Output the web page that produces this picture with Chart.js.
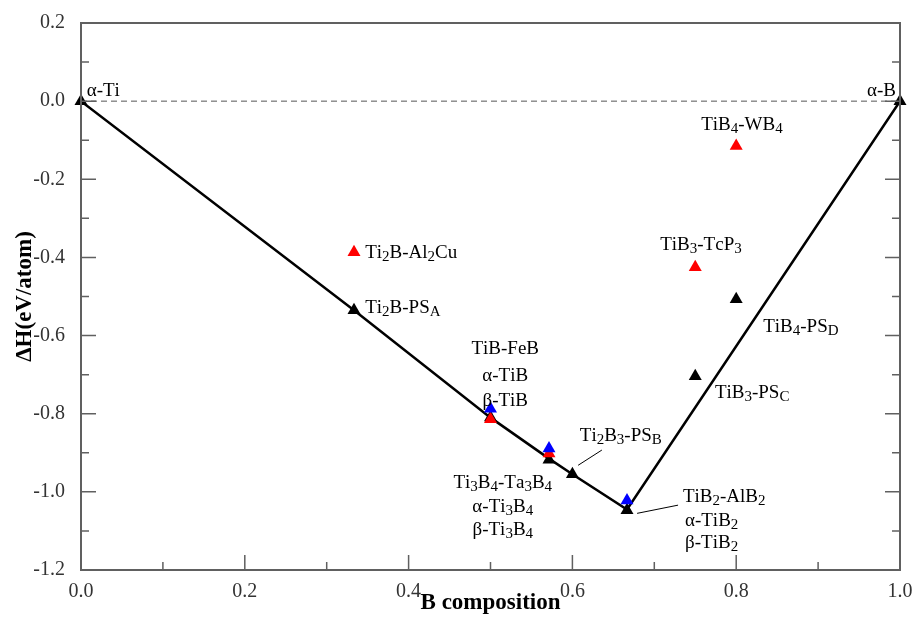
<!DOCTYPE html>
<html>
<head>
<meta charset="utf-8">
<script src="https://cdn.jsdelivr.net/npm/chart.js@4"></script>
<style>
  html, body { margin: 0; padding: 0; background: #fff; }
  #wrap { width: 915px; height: 617px; }
</style>
</head>
<body>
<div id="wrap"><canvas id="c"></canvas></div>
<script>
// B composition and formation enthalpy (eV/atom)
const hullX = [0, 1 / 3, 0.5, 4 / 7, 0.6, 2 / 3, 1];
const hullY = [0, -0.535, -0.81, -0.915, -0.955, -1.045, 0];

const blackX = [0, 1 / 3, 0.5, 4 / 7, 0.6, 2 / 3, 0.75, 0.8, 1];
const blackY = [0, -0.535, -0.81, -0.918, -0.955, -1.047, -0.704, -0.507, 0];

const redX = [1 / 3, 0.5, 4 / 7, 0.75, 0.8];
const redY = [-0.387, -0.814, -0.902, -0.425, -0.115];

const blueX = [0.5, 4 / 7, 2 / 3];
const blueY = [-0.787, -0.889, -1.022];

const xTicks = [0, 0.2, 0.4, 0.6, 0.8, 1.0];
const yTicks = [0.2, 0, -0.2, -0.4, -0.6, -0.8, -1.0, -1.2];

// structure names ("_" marks a one-letter subscript)
const notes = [
  { t: 'α-Ti', x: 0.007, y: 0.026, a: 'left' },
  { t: 'α-B', x: 0.995, y: 0.026, a: 'right' },
  { t: 'Ti_2B-Al_2Cu', x: 0.347, y: -0.389, a: 'left' },
  { t: 'Ti_2B-PS_A', x: 0.347, y: -0.530, a: 'left' },
  { t: 'TiB-FeB', x: 0.518, y: -0.635, a: 'center' },
  { t: 'α-TiB', x: 0.518, y: -0.703, a: 'center' },
  { t: 'β-TiB', x: 0.518, y: -0.767, a: 'center' },
  { t: 'Ti_2B_3-PS_B', x: 0.609, y: -0.857, a: 'left' },
  { t: 'Ti_3B_4-Ta_3B_4', x: 0.515, y: -0.978, a: 'center' },
  { t: 'α-Ti_3B_4', x: 0.515, y: -1.039, a: 'center' },
  { t: 'β-Ti_3B_4', x: 0.515, y: -1.098, a: 'center' },
  { t: 'TiB_2-AlB_2', x: 0.735, y: -1.014, a: 'left' },
  { t: 'α-TiB_2', x: 0.770, y: -1.075, a: 'center' },
  { t: 'β-TiB_2', x: 0.770, y: -1.131, a: 'center' },
  { t: 'TiB_4-WB_4', x: 0.807, y: -0.061, a: 'center' },
  { t: 'TiB_3-TcP_3', x: 0.757, y: -0.369, a: 'center' },
  { t: 'TiB_4-PS_D', x: 0.833, y: -0.578, a: 'left' },
  { t: 'TiB_3-PS_C', x: 0.774, y: -0.747, a: 'left' }
];

// leader lines
const leaders = [
  [0.607, -0.932, 0.636, -0.893],
  [0.679, -1.055, 0.729, -1.034]
];

const pts = (xs, ys) => xs.map((x, i) => ({ x, y: ys[i] }));

const FONT = '"Liberation Serif", "Times New Roman", serif';

function splitSub(s) {
  const parts = [];
  for (let i = 0; i < s.length; i++) {
    if (s[i] === '_' && i + 1 < s.length) {
      parts.push({ c: s[i + 1], sub: true });
      i++;
    } else {
      parts.push({ c: s[i], sub: false });
    }
  }
  return parts;
}

const frame = {
  id: 'frame',
  afterDatasetsDraw(chart) {
    const { ctx, chartArea: a, scales: { x, y } } = chart;
    ctx.save();
    // box
    ctx.strokeStyle = '#606060';
    ctx.lineWidth = 2;
    ctx.strokeRect(a.left, a.top, a.right - a.left, a.bottom - a.top);
    // inward ticks
    ctx.lineWidth = 1.5;
    ctx.beginPath();
    for (let i = 0; i <= 10; i++) {
      const v = i / 10;
      const px = x.getPixelForValue(v);
      const len = i % 2 === 0 ? 15 : 8;
      ctx.moveTo(px, a.bottom);
      ctx.lineTo(px, a.bottom - len);
    }
    for (let i = 0; i <= 14; i++) {
      const v = -1.2 + i / 10;
      const py = y.getPixelForValue(v);
      const len = i % 2 === 0 ? 15 : 8;
      ctx.moveTo(a.left, py);
      ctx.lineTo(a.left + len, py);
      ctx.moveTo(a.right, py);
      ctx.lineTo(a.right - len, py);
    }
    ctx.stroke();
    // leader lines
    ctx.strokeStyle = '#000';
    ctx.lineWidth = 1;
    ctx.beginPath();
    leaders.forEach(l => {
      ctx.moveTo(x.getPixelForValue(l[0]), y.getPixelForValue(l[1]));
      ctx.lineTo(x.getPixelForValue(l[2]), y.getPixelForValue(l[3]));
    });
    ctx.stroke();
    // labels
    ctx.fillStyle = '#000';
    ctx.textBaseline = 'middle';
    const big = '19px ' + FONT, small = '15px ' + FONT;
    notes.forEach(n => {
      const parts = splitSub(n.t);
      let w = 0;
      parts.forEach(p => {
        ctx.font = p.sub ? small : big;
        p.w = ctx.measureText(p.c).width;
        w += p.w;
      });
      let px = x.getPixelForValue(n.x);
      const py = y.getPixelForValue(n.y);
      if (n.a === 'center') px -= w / 2;
      else if (n.a === 'right') px -= w;
      ctx.textAlign = 'left';
      parts.forEach(p => {
        ctx.font = p.sub ? small : big;
        ctx.fillText(p.c, px, p.sub ? py + 4 : py);
        px += p.w;
      });
    });
    ctx.restore();
  }
};

new Chart(document.getElementById('c'), {
  type: 'scatter',
  data: {
    datasets: [
      {
        label: 'blue',
        data: pts(blueX, blueY),
        pointStyle: 'triangle',
        pointRadius: 7.5,
        backgroundColor: '#0000ff',
        borderColor: '#0000ff',
        borderWidth: 0,
        clip: false,
        order: 0
      },
      {
        label: 'red',
        data: pts(redX, redY),
        pointStyle: 'triangle',
        pointRadius: 7.5,
        backgroundColor: '#ff0000',
        borderColor: '#ff0000',
        borderWidth: 0,
        clip: false,
        order: 1
      },
      {
        label: 'black',
        data: pts(blackX, blackY),
        pointStyle: 'triangle',
        pointRadius: 7.5,
        backgroundColor: '#000',
        borderColor: '#000',
        borderWidth: 0,
        clip: false,
        order: 2
      },
      {
        label: 'hull',
        type: 'line',
        data: pts(hullX, hullY),
        borderColor: '#000',
        borderWidth: 2.5,
        pointRadius: 0,
        tension: 0,
        fill: false,
        order: 3
      },
      {
        label: 'zero',
        type: 'line',
        data: pts([0, 1], [0, 0]),
        borderColor: '#555',
        borderWidth: 1,
        borderDash: [6, 4],
        pointRadius: 0,
        fill: false,
        order: 4
      }
    ]
  },
  options: {
    responsive: true,
    maintainAspectRatio: false,
    animation: false,
    layout: { padding: { left: 0, right: 15, top: 23, bottom: 0 } },
    plugins: { legend: { display: false }, tooltip: { enabled: false } },
    scales: {
      x: {
        type: 'linear',
        min: 0,
        max: 1,
        afterFit: s => { s.height = 47; },
        afterBuildTicks: s => { s.ticks = xTicks.map(v => ({ value: v })); },
        grid: { display: false },
        border: { display: false },
        ticks: {
          padding: 2,
          color: '#333',
          font: { family: FONT, size: 20 },
          callback: v => v.toFixed(1)
        },
        title: {
          display: true,
          text: 'B composition',
          color: '#000',
          padding: { top: 0, bottom: 0 },
          font: { family: FONT, size: 23, weight: 'bold' }
        }
      },
      y: {
        type: 'linear',
        min: -1.2,
        max: 0.2,
        afterFit: s => { s.width = 81; },
        afterBuildTicks: s => { s.ticks = yTicks.map(v => ({ value: v })); },
        grid: { display: false },
        border: { display: false },
        ticks: {
          padding: 8,
          color: '#333',
          font: { family: FONT, size: 20 },
          callback: v => (Math.abs(v) < 1e-9 ? 0 : v).toFixed(1)
        },
        title: {
          display: true,
          text: 'ΔH(eV/atom)',
          color: '#000',
          padding: { top: 11, bottom: 0 },
          font: { family: FONT, size: 23, weight: 'bold' }
        }
      }
    }
  },
  plugins: [frame]
});
</script>
</body>
</html>
